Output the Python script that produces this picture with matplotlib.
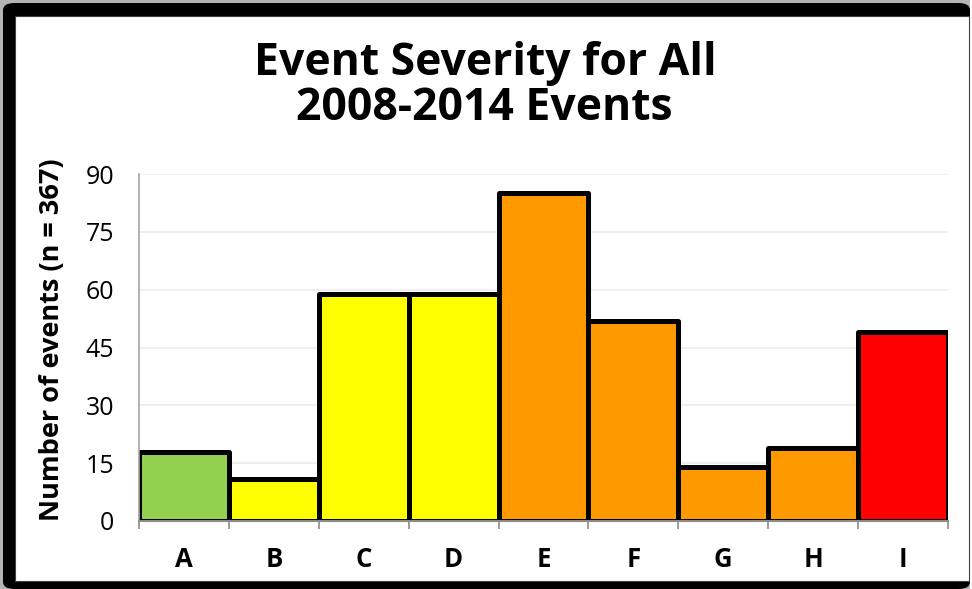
import matplotlib
matplotlib.use("Agg")
import matplotlib.pyplot as plt
from matplotlib.patches import Rectangle, FancyBboxPatch

plt.rcParams['font.family'] = ['Open Sans', 'DejaVu Sans']

# Data
categories = ['A', 'B', 'C', 'D', 'E', 'F', 'G', 'H', 'I']
counts = [18, 11, 59, 59, 85, 52, 14, 19, 49]
bar_colors = ['#92D050', '#FFFF00', '#FFFF00', '#FFFF00',
              '#FF9900', '#FF9900', '#FF9900', '#FF9900', '#FF0000']
y_ticks = [0, 15, 30, 45, 60, 75, 90]
title_lines = ['Event Severity for All', '2008-2014 Events']
y_label = 'Number of events (n = 367)'

W, H = 972, 589
fig = plt.figure(figsize=(W / 100, H / 100), dpi=100)
fig.patch.set_facecolor('#b4b4b4')

def fx(px):
    return px / W

def fy(py):
    return 1 - py / H

# Frame: thick black border with a white panel inside
fig.patches.append(FancyBboxPatch((fx(3), fy(589)), fx(967), 586 / H,
                                  boxstyle='round,pad=0,rounding_size=0.012',
                                  transform=fig.transFigure, facecolor='black',
                                  edgecolor='none', zorder=-3))
fig.patches.append(Rectangle((fx(970), fy(589)), fx(2), 589 / H,
                             transform=fig.transFigure, facecolor='white',
                             edgecolor='none', zorder=-2.5))
fig.patches.append(Rectangle((fx(15), fy(581)), fx(954), 565 / H,
                             transform=fig.transFigure, facecolor='white',
                             edgecolor='#404040', linewidth=0.8, zorder=-2))

ax = fig.add_axes([fx(139), fy(521), fx(948 - 139), (521 - 174) / H])
ax.set_facecolor('white')

x = list(range(len(categories)))
ax.bar(x, counts, width=1.0, color=bar_colors, edgecolor='black',
       linewidth=3.6, joinstyle='round', zorder=3)

ax.set_xlim(-0.5, len(categories) - 0.5)
ax.set_ylim(0, 90)
ax.set_yticks(y_ticks)
ax.set_yticklabels([str(v) for v in y_ticks], fontsize=18)
ax.tick_params(axis='y', length=0, pad=18, labelcolor='black')

ax.set_xticks(x)
ax.set_xticklabels(categories, fontsize=18.5, fontweight='bold')
ax.tick_params(axis='x', which='major', length=0, pad=18)
ax.set_xticks([i - 0.5 for i in range(len(categories) + 1)], minor=True)
ax.tick_params(axis='x', which='minor', length=6, width=1.2, color='#8c8c8c')

ax.grid(axis='y', color='#ececec', linewidth=1.2, zorder=0)
ax.set_axisbelow(True)
for side in ['top', 'right']:
    ax.spines[side].set_visible(False)
ax.spines['left'].set_color('#a6a6a6')
ax.spines['left'].set_linewidth(1.2)
ax.spines['bottom'].set_color('#8c8c8c')
ax.spines['bottom'].set_linewidth(1.5)
ax.spines['left'].set_zorder(4)
ax.spines['bottom'].set_zorder(4)

fig.text(fx(52), fy(340), y_label, rotation=90, fontsize=19.5,
         fontweight='bold', ha='center', va='center')

fig.text(fx(485), fy(75), title_lines[0], fontsize=32, fontweight='bold',
         ha='center', va='baseline')
fig.text(fx(484), fy(120), title_lines[1], fontsize=32, fontweight='bold',
         ha='center', va='baseline')

fig.savefig('out.png', dpi=100, facecolor=fig.get_facecolor())
